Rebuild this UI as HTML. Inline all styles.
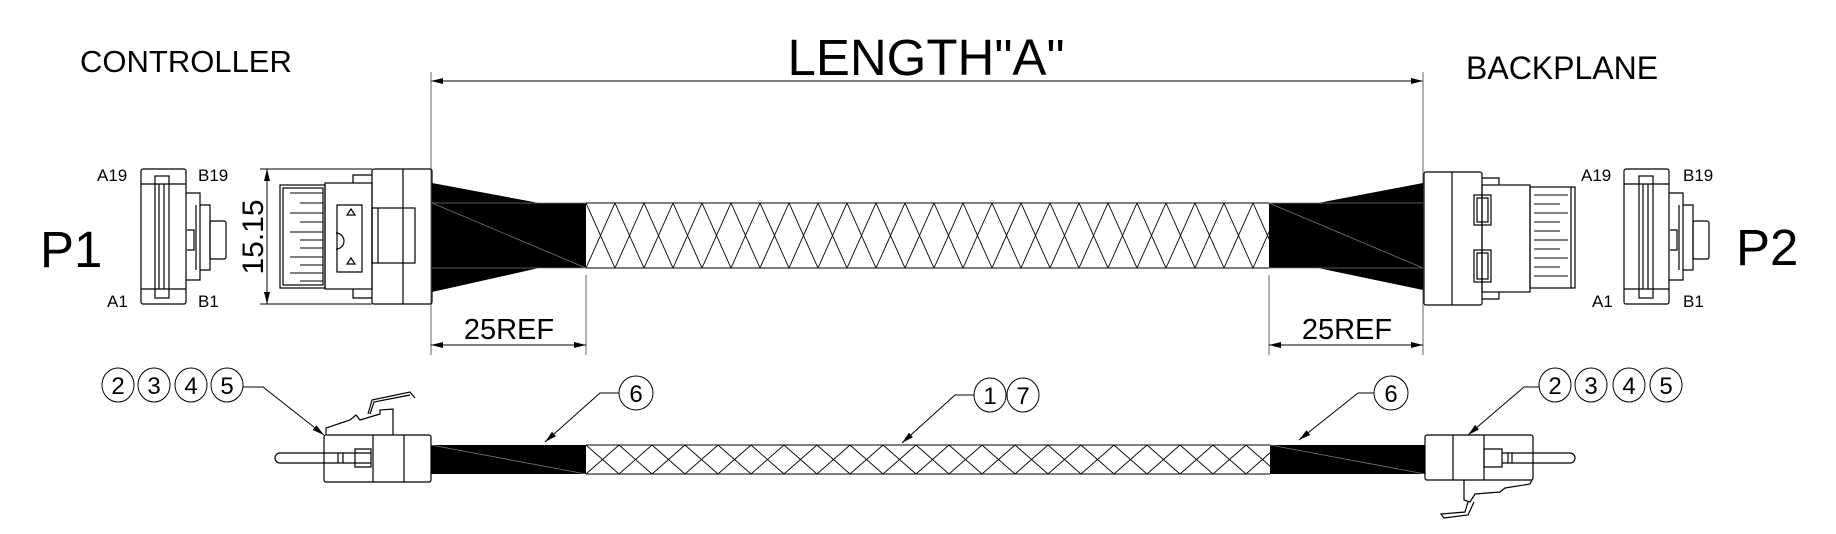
<!DOCTYPE html>
<html><head><meta charset="utf-8"><style>
html,body{margin:0;padding:0;background:#fff;}
svg{display:block;}
text{font-family:"Liberation Sans",Arial,sans-serif;fill:#000;}
</style></head><body>
<svg id="s" width="1836" height="534" viewBox="0 0 1836 534" xmlns="http://www.w3.org/2000/svg">
<defs>
<marker id="ar" viewBox="0 0 12 6" refX="12" refY="3" markerWidth="12" markerHeight="6" orient="auto-start-reverse" markerUnits="userSpaceOnUse"><path d="M0,0 L12,3 L0,6 z" fill="#000"/></marker>
<clipPath id="cb1"><rect x="586" y="203" width="683" height="65"/></clipPath>
<clipPath id="cb2"><rect x="586" y="445" width="684" height="29"/></clipPath>
</defs>
<g fill="none" stroke="#000" stroke-width="1.2">
<text x="80" y="72" font-size="31" stroke="none">CONTROLLER</text>
<text x="1466" y="79" font-size="32" stroke="none">BACKPLANE</text>
<text x="926" y="75" font-size="51" text-anchor="middle" stroke="none">LENGTH"A"</text>
<line x1="431" y1="81" x2="1423" y2="81" marker-start="url(#ar)" marker-end="url(#ar)" stroke-width="1"/>
<line x1="431" y1="72" x2="431" y2="355" stroke="#666" stroke-width="1"/>
<line x1="1423" y1="72" x2="1423" y2="355" stroke="#666" stroke-width="1"/>
<line x1="586" y1="275" x2="586" y2="355" stroke="#666" stroke-width="1"/>
<line x1="1269" y1="275" x2="1269" y2="355" stroke="#666" stroke-width="1"/>
<line x1="431" y1="345" x2="586" y2="345" marker-start="url(#ar)" marker-end="url(#ar)" stroke-width="1"/>
<line x1="1269" y1="345" x2="1423" y2="345" marker-start="url(#ar)" marker-end="url(#ar)" stroke-width="1"/>
<text x="509" y="339" font-size="29" text-anchor="middle" stroke="none">25REF</text>
<text x="1347" y="339" font-size="29" text-anchor="middle" stroke="none">25REF</text>

<text x="40" y="267" font-size="51" stroke="none">P1</text>
<text x="1736" y="265" font-size="51" stroke="none">P2</text>
<text x="97" y="181" font-size="17" stroke="none">A19</text>
<text x="198" y="181" font-size="17" stroke="none">B19</text>
<text x="107" y="307" font-size="17" stroke="none">A1</text>
<text x="198" y="307" font-size="17" stroke="none">B1</text>
<text x="1581" y="181" font-size="17" stroke="none">A19</text>
<text x="1683" y="181" font-size="17" stroke="none">B19</text>
<text x="1592" y="307" font-size="17" stroke="none">A1</text>
<text x="1683" y="307" font-size="17" stroke="none">B1</text>

<rect x="141" y="169" width="45" height="135" rx="2"/>
<line x1="141" y1="184" x2="186" y2="184"/><line x1="141" y1="289" x2="186" y2="289"/>
<rect x="155" y="176" width="14" height="122"/>
<line x1="159" y1="184" x2="159" y2="289"/><line x1="164" y1="184" x2="164" y2="289"/>
<path d="M186,193 H200 V280 H186"/>
<path d="M196,205 V270 M200,205 H210 V270 H200"/>
<rect x="210" y="221" width="16" height="38" rx="2"/>
<path d="M187,230 h7 v20 h-7"/>
<rect x="1624" y="169" width="45" height="135" rx="2"/>
<line x1="1624" y1="184" x2="1669" y2="184"/><line x1="1624" y1="289" x2="1669" y2="289"/>
<rect x="1639" y="176" width="14" height="122"/>
<line x1="1643" y1="184" x2="1643" y2="289"/><line x1="1648" y1="184" x2="1648" y2="289"/>
<path d="M1669,193 H1683 V280 H1669"/>
<path d="M1679,205 V270 M1683,205 H1693 V270 H1683"/>
<rect x="1693" y="221" width="16" height="38" rx="2"/>
<path d="M1670,230 h7 v20 h-7"/>

<line x1="260" y1="169" x2="372" y2="169" stroke-width="1"/>
<line x1="260" y1="304" x2="372" y2="304" stroke-width="1"/>
<line x1="267" y1="169" x2="267" y2="304" marker-start="url(#ar)" marker-end="url(#ar)" stroke-width="1"/>
<text transform="translate(263,237) rotate(-90)" font-size="30" text-anchor="middle" stroke="none">15.15</text>
<rect x="372" y="169" width="60" height="135" rx="2"/>
<line x1="403" y1="169" x2="403" y2="304"/>
<path d="M372,175 H353 V183 M372,298 H353 V289"/>
<rect x="325" y="183" width="47" height="106"/>
<rect x="280" y="185" width="45" height="103"/>
<rect x="283" y="188" width="40" height="97"/>
<g stroke-width="1">
<line x1="290" y1="193" x2="323" y2="193"/><line x1="300" y1="203" x2="323" y2="203"/><line x1="290" y1="213" x2="323" y2="213"/><line x1="300" y1="222" x2="323" y2="222"/><line x1="290" y1="232" x2="323" y2="232"/><line x1="300" y1="240" x2="323" y2="240"/><line x1="300" y1="248" x2="323" y2="248"/><line x1="290" y1="257" x2="323" y2="257"/><line x1="300" y1="265" x2="323" y2="265"/><line x1="290" y1="273" x2="323" y2="273"/><line x1="300" y1="281" x2="323" y2="281"/>
</g>
<path d="M337,205 H362 V272 H337 Z"/>
<rect x="372" y="208" width="43" height="55"/>
<line x1="378" y1="208" x2="378" y2="263"/>
<path d="M336,233 a8,8 0 0 1 0,16"/>
<path d="M347,215 h8 l-4,-6 z M347,264 h8 l-4,-6 z"/>

<rect x="1424" y="172" width="58" height="133" rx="2"/>
<line x1="1452" y1="172" x2="1452" y2="305"/>
<path d="M1482,178 H1499 V185 M1482,299 H1499 V292"/>
<rect x="1482" y="185" width="48" height="107"/>
<rect x="1474" y="195" width="17" height="30"/><rect x="1477" y="198" width="11" height="24"/>
<rect x="1474" y="250" width="17" height="32"/><rect x="1477" y="253" width="11" height="26"/>
<rect x="1530" y="187" width="45" height="101"/>
<line x1="1571" y1="187" x2="1571" y2="288"/>
<g stroke-width="1">
<line x1="1534" y1="195" x2="1568" y2="195"/><line x1="1534" y1="204" x2="1560" y2="204"/><line x1="1534" y1="213" x2="1568" y2="213"/><line x1="1534" y1="222" x2="1560" y2="222"/><line x1="1534" y1="231" x2="1560" y2="231"/><line x1="1534" y1="240" x2="1568" y2="240"/><line x1="1534" y1="249" x2="1560" y2="249"/><line x1="1534" y1="258" x2="1568" y2="258"/><line x1="1534" y1="267" x2="1560" y2="267"/><line x1="1534" y1="276" x2="1568" y2="276"/>
</g>
</g>

<path d="M432,183 L539,203 L586,203 L586,268 L539,268 L432,292 Z" fill="#000"/>
<path d="M1423,183 L1318,203 L1269,203 L1269,268 L1318,268 L1423,290 Z" fill="#000"/>
<g stroke="#777" stroke-width="0.8">
<line x1="432" y1="203" x2="586" y2="203"/><line x1="432" y1="268" x2="586" y2="268"/><line x1="432" y1="203" x2="586" y2="268"/>
<line x1="1269" y1="203" x2="1423" y2="203"/><line x1="1269" y1="268" x2="1423" y2="268"/><line x1="1269" y1="203" x2="1423" y2="268"/>
<line x1="586" y1="203" x2="1269" y2="203" stroke="#555" stroke-width="1.5"/>
<line x1="586" y1="268" x2="1269" y2="268" stroke="#555" stroke-width="1.5"/>
</g>
<g id="br1" clip-path="url(#cb1)" stroke="#000" stroke-width="0.9"></g>

<rect x="431" y="445" width="155" height="29" fill="#000"/>
<rect x="1270" y="445" width="155" height="29" fill="#000"/>
<g stroke="#777" stroke-width="0.8"><line x1="431" y1="445" x2="586" y2="474"/><line x1="1270" y1="445" x2="1425" y2="474"/></g>
<g fill="none" stroke="#000" stroke-width="1.2">
<line x1="586" y1="445" x2="1270" y2="445" stroke="#555" stroke-width="1.5"/>
<line x1="586" y1="474" x2="1270" y2="474" stroke="#555" stroke-width="1.5"/>
<g id="br2" clip-path="url(#cb2)" stroke-width="0.9"></g>
<rect x="324" y="435" width="107" height="47" rx="2"/>
<line x1="373" y1="435" x2="373" y2="482"/><line x1="404" y1="435" x2="404" y2="482"/>
<path d="M371,453 H280 a5,5 0 0 0 0,10 H371"/>
<path d="M338,453 V463 M343,453 V463"/>
<path d="M355,449 H371 V467 H355 Z"/>
<path d="M326,435 V428 L350,420 L356,415 L360,420 L380,414 V410 L393,409 V435"/>
<path d="M368,414 L372,400 L410,392 L415,398 M370,414 L374,402 L410,395"/>
<rect x="1425" y="435" width="108" height="45" rx="2"/>
<line x1="1453" y1="435" x2="1453" y2="480"/><line x1="1484" y1="435" x2="1484" y2="480"/>
<path d="M1502,453 H1570 a5,5 0 0 1 0,10 H1502"/>
<path d="M1508,453 V463 M1512,453 V463"/>
<path d="M1484,449 H1502 V467 H1484 Z"/>
<path d="M1464,480 V500 L1470,502 L1475,494 L1500,492 L1505,488 L1530,484 L1532,480"/>
<path d="M1468,502 L1465,512 L1441,514 L1444,518 L1468,515 L1474,502"/>
<g stroke-width="1">
<ellipse cx="118" cy="385" rx="16" ry="17"/><ellipse cx="154" cy="385" rx="16" ry="17"/><ellipse cx="191" cy="385" rx="16" ry="17"/><ellipse cx="227" cy="385" rx="16" ry="17"/>
<path d="M243,387 H263 L324,435" marker-end="url(#ar)"/>
<ellipse cx="636" cy="393" rx="17" ry="17"/>
<path d="M619,393 H600 L545,442" marker-end="url(#ar)"/>
<ellipse cx="990" cy="395" rx="16" ry="17"/><ellipse cx="1023" cy="395" rx="16" ry="17"/>
<path d="M974,395 H955 L902,443" marker-end="url(#ar)"/>
<ellipse cx="1391" cy="393" rx="17" ry="17"/>
<path d="M1374,393 H1358 L1299,440" marker-end="url(#ar)"/>
<ellipse cx="1555" cy="385" rx="16" ry="17"/><ellipse cx="1591" cy="385" rx="16" ry="17"/><ellipse cx="1629" cy="385" rx="16" ry="17"/><ellipse cx="1666" cy="385" rx="16" ry="17"/>
<path d="M1539,387 H1524 L1468,435" marker-end="url(#ar)"/>
</g>
</g>
<g font-size="24" text-anchor="middle">
<text x="118" y="394">2</text><text x="154" y="394">3</text><text x="191" y="394">4</text><text x="227" y="394">5</text>
<text x="636" y="402">6</text>
<text x="990" y="404">1</text><text x="1023" y="404">7</text>
<text x="1391" y="402">6</text>
<text x="1555" y="394">2</text><text x="1591" y="394">3</text><text x="1629" y="394">4</text><text x="1666" y="394">5</text>
</g>
</svg>
<script>
function braid(id,x0,x1,y0,y1,sp,run){
 var g=document.getElementById(id),h="";
 for(var x=x0-run;x<=x1+run;x+=sp){
  h+='<line x1="'+x+'" y1="'+y0+'" x2="'+(x+run)+'" y2="'+y1+'"/>';
  h+='<line x1="'+(x+run)+'" y1="'+y0+'" x2="'+x+'" y2="'+y1+'"/>';
 }
 g.innerHTML=h;
}
braid("br1",586,1269,203,268,29,29);
braid("br2",586,1270,445,474,33,33);
</script>
</body></html>
